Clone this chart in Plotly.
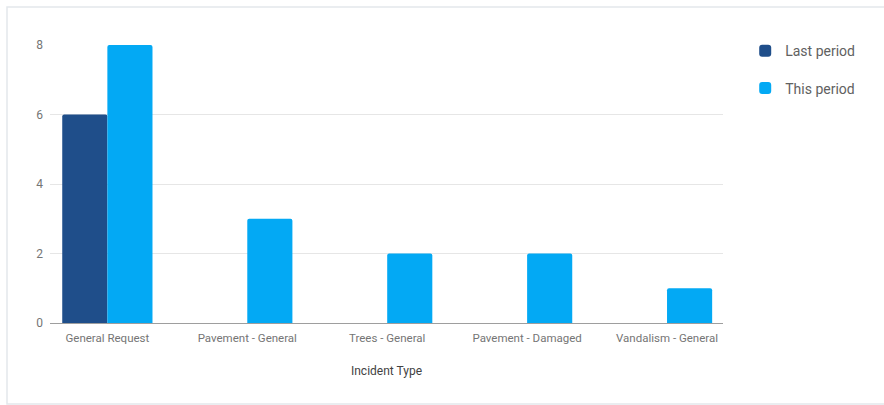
import plotly.graph_objects as go

categories = ["General Request", "Pavement - General", "Trees - General",
              "Pavement - Damaged", "Vandalism - General"]
last_period = [6, 0, 0, 0, 0]
this_period = [8, 3, 2, 2, 1]
y_ticks = [0, 2, 4, 6, 8]

# plot area in pixels (used to place the card outline)
W, H = 884, 405
L, R, T, B = 50, 161, 45, 82
pw, ph = W - L - R, H - T - B

def px_x(x):
    return (x - L) / pw

def px_y(y):
    return (H - B - y) / ph

fig = go.Figure()
fig.add_trace(go.Bar(x=categories, y=last_period, name="Last period",
                     marker=dict(color="#1f4e8a", line=dict(width=0),
                                 cornerradius=2),
                     legendgroup="a"))
fig.add_trace(go.Bar(x=categories, y=this_period, name="This period",
                     marker=dict(color="#03a9f4", line=dict(width=0),
                                 cornerradius=2),
                     legendgroup="b"))

fig.update_layout(
    width=W, height=H,
    margin=dict(l=L, r=R, t=T, b=B),
    paper_bgcolor="white", plot_bgcolor="white",
    font=dict(family="Roboto, sans-serif", color="#757575", size=12),
    barmode="group", bargap=0.355, bargroupgap=0,
    showlegend=True,
    legend=dict(x=1.033, y=1.035, xanchor="left", yanchor="top",
                font=dict(size=14, color="#616161"),
                tracegroupgap=16, traceorder="grouped",
                bgcolor="rgba(0,0,0,0)"),
    xaxis=dict(type="category", range=[-0.41, 4.4],
               showgrid=False, showline=True, linecolor="#9e9e9e",
               linewidth=1, ticks="", ticklabelstandoff=4,
               tickfont=dict(size=11.5, color="#757575"),
               title=dict(text="Incident Type", standoff=22,
                          font=dict(size=12, color="#424242"))),
    yaxis=dict(range=[0, 8], tickvals=y_ticks, showgrid=True,
               gridcolor="#e6e6e6", gridwidth=1, zeroline=False,
               showline=False, ticks="", ticklabelstandoff=6,
               tickfont=dict(size=12, color="#757575")),
    shapes=[dict(type="rect", xref="paper", yref="paper",
                 x0=px_x(7), x1=px_x(W + 10), y0=px_y(404), y1=px_y(7),
                 line=dict(color="#e3e8ec", width=1.5), layer="below")],
)

fig.write_html("out.html")
